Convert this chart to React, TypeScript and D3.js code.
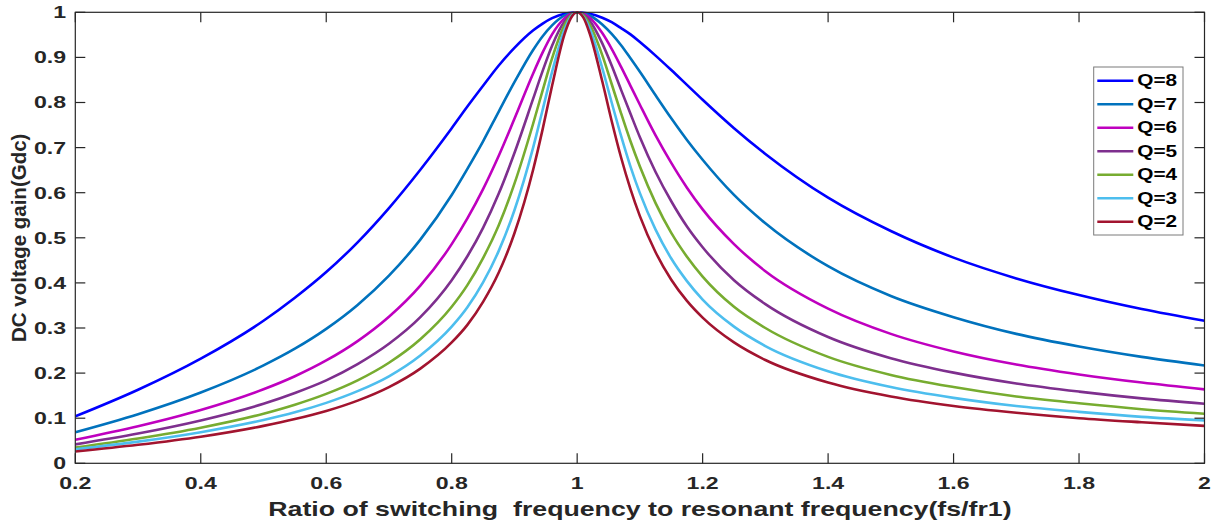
import React, { useEffect, useRef } from "react";
import * as d3 from "d3";

// switching frequency ratio fs/fr1 (sample points)
const xRatio = [
  0.2, 0.3, 0.4, 0.5, 0.55, 0.6, 0.65, 0.7, 0.75, 0.8,
  0.825, 0.85, 0.875, 0.9, 0.93, 0.945, 0.96, 0.98, 0.99, 1.0,
  1.01, 1.02, 1.04, 1.055, 1.07, 1.085, 1.1, 1.125, 1.15, 1.175,
  1.2, 1.25, 1.3, 1.4, 1.5, 1.6, 1.7, 1.8, 1.9, 2.0,
];

// DC voltage gain for each Q
const gainQ8 = [
  0.104, 0.163, 0.232, 0.316, 0.367, 0.424, 0.49, 0.566, 0.651, 0.743,
  0.791, 0.837, 0.882, 0.921, 0.96, 0.975, 0.987, 0.997, 0.999, 1,
  0.999, 0.997, 0.988, 0.978, 0.965, 0.951, 0.934, 0.904, 0.872, 0.839,
  0.806, 0.743, 0.686, 0.589, 0.515, 0.456, 0.41, 0.373, 0.342, 0.316,
];
const gainQ7 = [
  0.069, 0.109, 0.157, 0.217, 0.254, 0.298, 0.351, 0.416, 0.496, 0.595,
  0.653, 0.714, 0.78, 0.845, 0.917, 0.947, 0.971, 0.993, 0.998, 1,
  0.998, 0.993, 0.973, 0.952, 0.927, 0.898, 0.868, 0.816, 0.765, 0.717,
  0.673, 0.595, 0.532, 0.437, 0.371, 0.324, 0.287, 0.259, 0.236, 0.217,
];
const gainQ6 = [
  0.052, 0.082, 0.118, 0.164, 0.193, 0.228, 0.271, 0.325, 0.394, 0.486,
  0.543, 0.608, 0.682, 0.764, 0.865, 0.911, 0.951, 0.987, 0.997, 1,
  0.997, 0.988, 0.954, 0.919, 0.879, 0.837, 0.795, 0.727, 0.666, 0.611,
  0.563, 0.486, 0.426, 0.343, 0.287, 0.248, 0.219, 0.197, 0.179, 0.164,
];
const gainQ5 = [
  0.042, 0.066, 0.095, 0.132, 0.156, 0.184, 0.22, 0.265, 0.324, 0.406,
  0.459, 0.522, 0.598, 0.688, 0.809, 0.87, 0.926, 0.98, 0.995, 1,
  0.995, 0.981, 0.931, 0.882, 0.828, 0.775, 0.723, 0.646, 0.581, 0.525,
  0.479, 0.406, 0.353, 0.28, 0.233, 0.201, 0.177, 0.159, 0.144, 0.132,
];
const gainQ4 = [
  0.035, 0.055, 0.079, 0.11, 0.13, 0.154, 0.184, 0.223, 0.275, 0.347,
  0.395, 0.455, 0.528, 0.62, 0.754, 0.827, 0.898, 0.972, 0.993, 1,
  0.993, 0.973, 0.905, 0.841, 0.776, 0.714, 0.658, 0.577, 0.511, 0.458,
  0.414, 0.347, 0.3, 0.236, 0.196, 0.169, 0.148, 0.133, 0.12, 0.11,
];
const gainQ3 = [
  0.031, 0.048, 0.069, 0.096, 0.113, 0.134, 0.16, 0.193, 0.239, 0.303,
  0.346, 0.401, 0.471, 0.561, 0.701, 0.784, 0.868, 0.962, 0.99, 1,
  0.99, 0.964, 0.876, 0.8, 0.726, 0.658, 0.599, 0.518, 0.454, 0.404,
  0.363, 0.303, 0.26, 0.204, 0.169, 0.145, 0.127, 0.114, 0.103, 0.095,
];
const gainQ2 = [
  0.026, 0.041, 0.059, 0.083, 0.098, 0.116, 0.139, 0.169, 0.21, 0.268,
  0.307, 0.358, 0.423, 0.51, 0.652, 0.741, 0.837, 0.952, 0.987, 1,
  0.988, 0.953, 0.847, 0.759, 0.678, 0.608, 0.548, 0.468, 0.407, 0.36,
  0.323, 0.268, 0.229, 0.179, 0.148, 0.127, 0.112, 0.1, 0.091, 0.083,
];

const seriesNames = ["Q=8", "Q=7", "Q=6", "Q=5", "Q=4", "Q=3", "Q=2"];
const seriesValues = [gainQ8, gainQ7, gainQ6, gainQ5, gainQ4, gainQ3, gainQ2];

const xTicks = [0.2, 0.4, 0.6, 0.8, 1, 1.2, 1.4, 1.6, 1.8, 2];
const yTicks = [0, 0.1, 0.2, 0.3, 0.4, 0.5, 0.6, 0.7, 0.8, 0.9, 1];

const colors = ["#0000ff", "#0072bd", "#bf00bf", "#7e2f8e", "#77ac30", "#4dbeee", "#a2142f"];

const W = 1212;
const H = 523;
const FONT = "'Liberation Sans', Arial, Helvetica, sans-serif";
const AX = "#262626";

export default function App() {
  const ref = useRef<SVGSVGElement>(null);

  useEffect(() => {
    const svg = d3.select(ref.current);
    svg.selectAll("*").remove();

    const x = d3.scaleLinear().domain([0.2, 2]).range([75.3, 1204.5]);
    const y = d3.scaleLinear().domain([0, 1]).range([463.3, 12.3]);
    const [x0, x1] = x.range();
    const [yb, yt] = y.range();

    svg
      .append("defs")
      .append("clipPath")
      .attr("id", "plot-clip")
      .append("rect")
      .attr("x", x0)
      .attr("y", yt - 2)
      .attr("width", x1 - x0)
      .attr("height", yb - yt + 2);

    // curves
    const line = d3
      .line<number>()
      .x((_, i) => x(xRatio[i]))
      .y((d) => y(d))
      .curve(d3.curveMonotoneX);

    svg
      .append("g")
      .attr("clip-path", "url(#plot-clip)")
      .selectAll("path")
      .data(seriesValues)
      .join("path")
      .attr("d", (d) => line(d))
      .attr("fill", "none")
      .attr("stroke", (_, i) => colors[i])
      .attr("stroke-width", 2.6)
      .attr("stroke-linejoin", "round");

    // box + inward ticks (matlab style)
    const axis = svg.append("g").attr("stroke", AX).attr("stroke-width", 1.2).attr("fill", "none");
    axis.append("rect").attr("x", x0).attr("y", yt).attr("width", x1 - x0).attr("height", yb - yt);
    const tl = 10;
    xTicks.forEach((t) => {
      axis.append("line").attr("x1", x(t)).attr("x2", x(t)).attr("y1", yb).attr("y2", yb - tl);
      axis.append("line").attr("x1", x(t)).attr("x2", x(t)).attr("y1", yt).attr("y2", yt + tl);
    });
    yTicks.forEach((t) => {
      axis.append("line").attr("x1", x0).attr("x2", x0 + tl).attr("y1", y(t)).attr("y2", y(t));
      axis.append("line").attr("x1", x1).attr("x2", x1 - tl).attr("y1", y(t)).attr("y2", y(t));
    });

    const fmt = d3.format("~g");

    svg
      .append("g")
      .selectAll("text")
      .data(xTicks)
      .join("text")
      .attr("transform", (d) => `translate(${x(d)},489) scale(1.4,1)`)
      .attr("text-anchor", "middle")
      .style("font-family", FONT)
      .style("font-weight", "bold")
      .style("font-size", "16.5px")
      .style("fill", AX)
      .text((d) => fmt(d));

    svg
      .append("g")
      .selectAll("text")
      .data(yTicks)
      .join("text")
      .attr("transform", (d) => `translate(66,${y(d)}) scale(1.4,1)`)
      .attr("text-anchor", "end")
      .attr("dy", "0.36em")
      .style("font-family", FONT)
      .style("font-weight", "bold")
      .style("font-size", "16.5px")
      .style("fill", AX)
      .text((d) => fmt(d));

    // axis titles
    svg
      .append("text")
      .attr("transform", `translate(${(x0 + x1) / 2},516) scale(1.37,1)`)
      .attr("text-anchor", "middle")
      .style("font-family", FONT)
      .style("font-weight", "bold")
      .style("font-size", "19.5px")
      .style("fill", AX)
      .style("white-space", "pre")
      .text("Ratio of switching  frequency to resonant frequency(fs/fr1)");

    svg
      .append("text")
      .attr("transform", `translate(26,${(yb + yt) / 2}) rotate(-90)`)
      .attr("text-anchor", "middle")
      .style("font-family", FONT)
      .style("font-weight", "bold")
      .style("font-size", "20.5px")
      .style("fill", AX)
      .text("DC voltage gain(Gdc)");

    // legend
    const lg = svg.append("g");
    lg.append("rect")
      .attr("x", 1093.7)
      .attr("y", 67)
      .attr("width", 89.3)
      .attr("height", 168)
      .attr("fill", "#fff")
      .attr("stroke", "#7a7a7a")
      .attr("stroke-width", 1);

    const rows = lg
      .selectAll("g.row")
      .data(seriesNames)
      .join("g")
      .attr("class", "row")
      .attr("transform", (_, i) => `translate(0,${80.7 + i * 23.5})`);

    rows
      .append("line")
      .attr("x1", 1097.3)
      .attr("x2", 1133.3)
      .attr("stroke", (_, i) => colors[i])
      .attr("stroke-width", 2.6);

    rows
      .append("text")
      .attr("transform", "translate(1137.3,0) scale(1.3,1)")
      .attr("dy", "0.36em")
      .style("font-family", FONT)
      .style("font-weight", "bold")
      .style("font-size", "16px")
      .style("fill", "#000")
      .text((d) => d);
  }, []);

  return (
    <svg
      ref={ref}
      width={W}
      height={H}
      style={{ position: "absolute", left: 0, top: 0, background: "#fff" }}
    />
  );
}
